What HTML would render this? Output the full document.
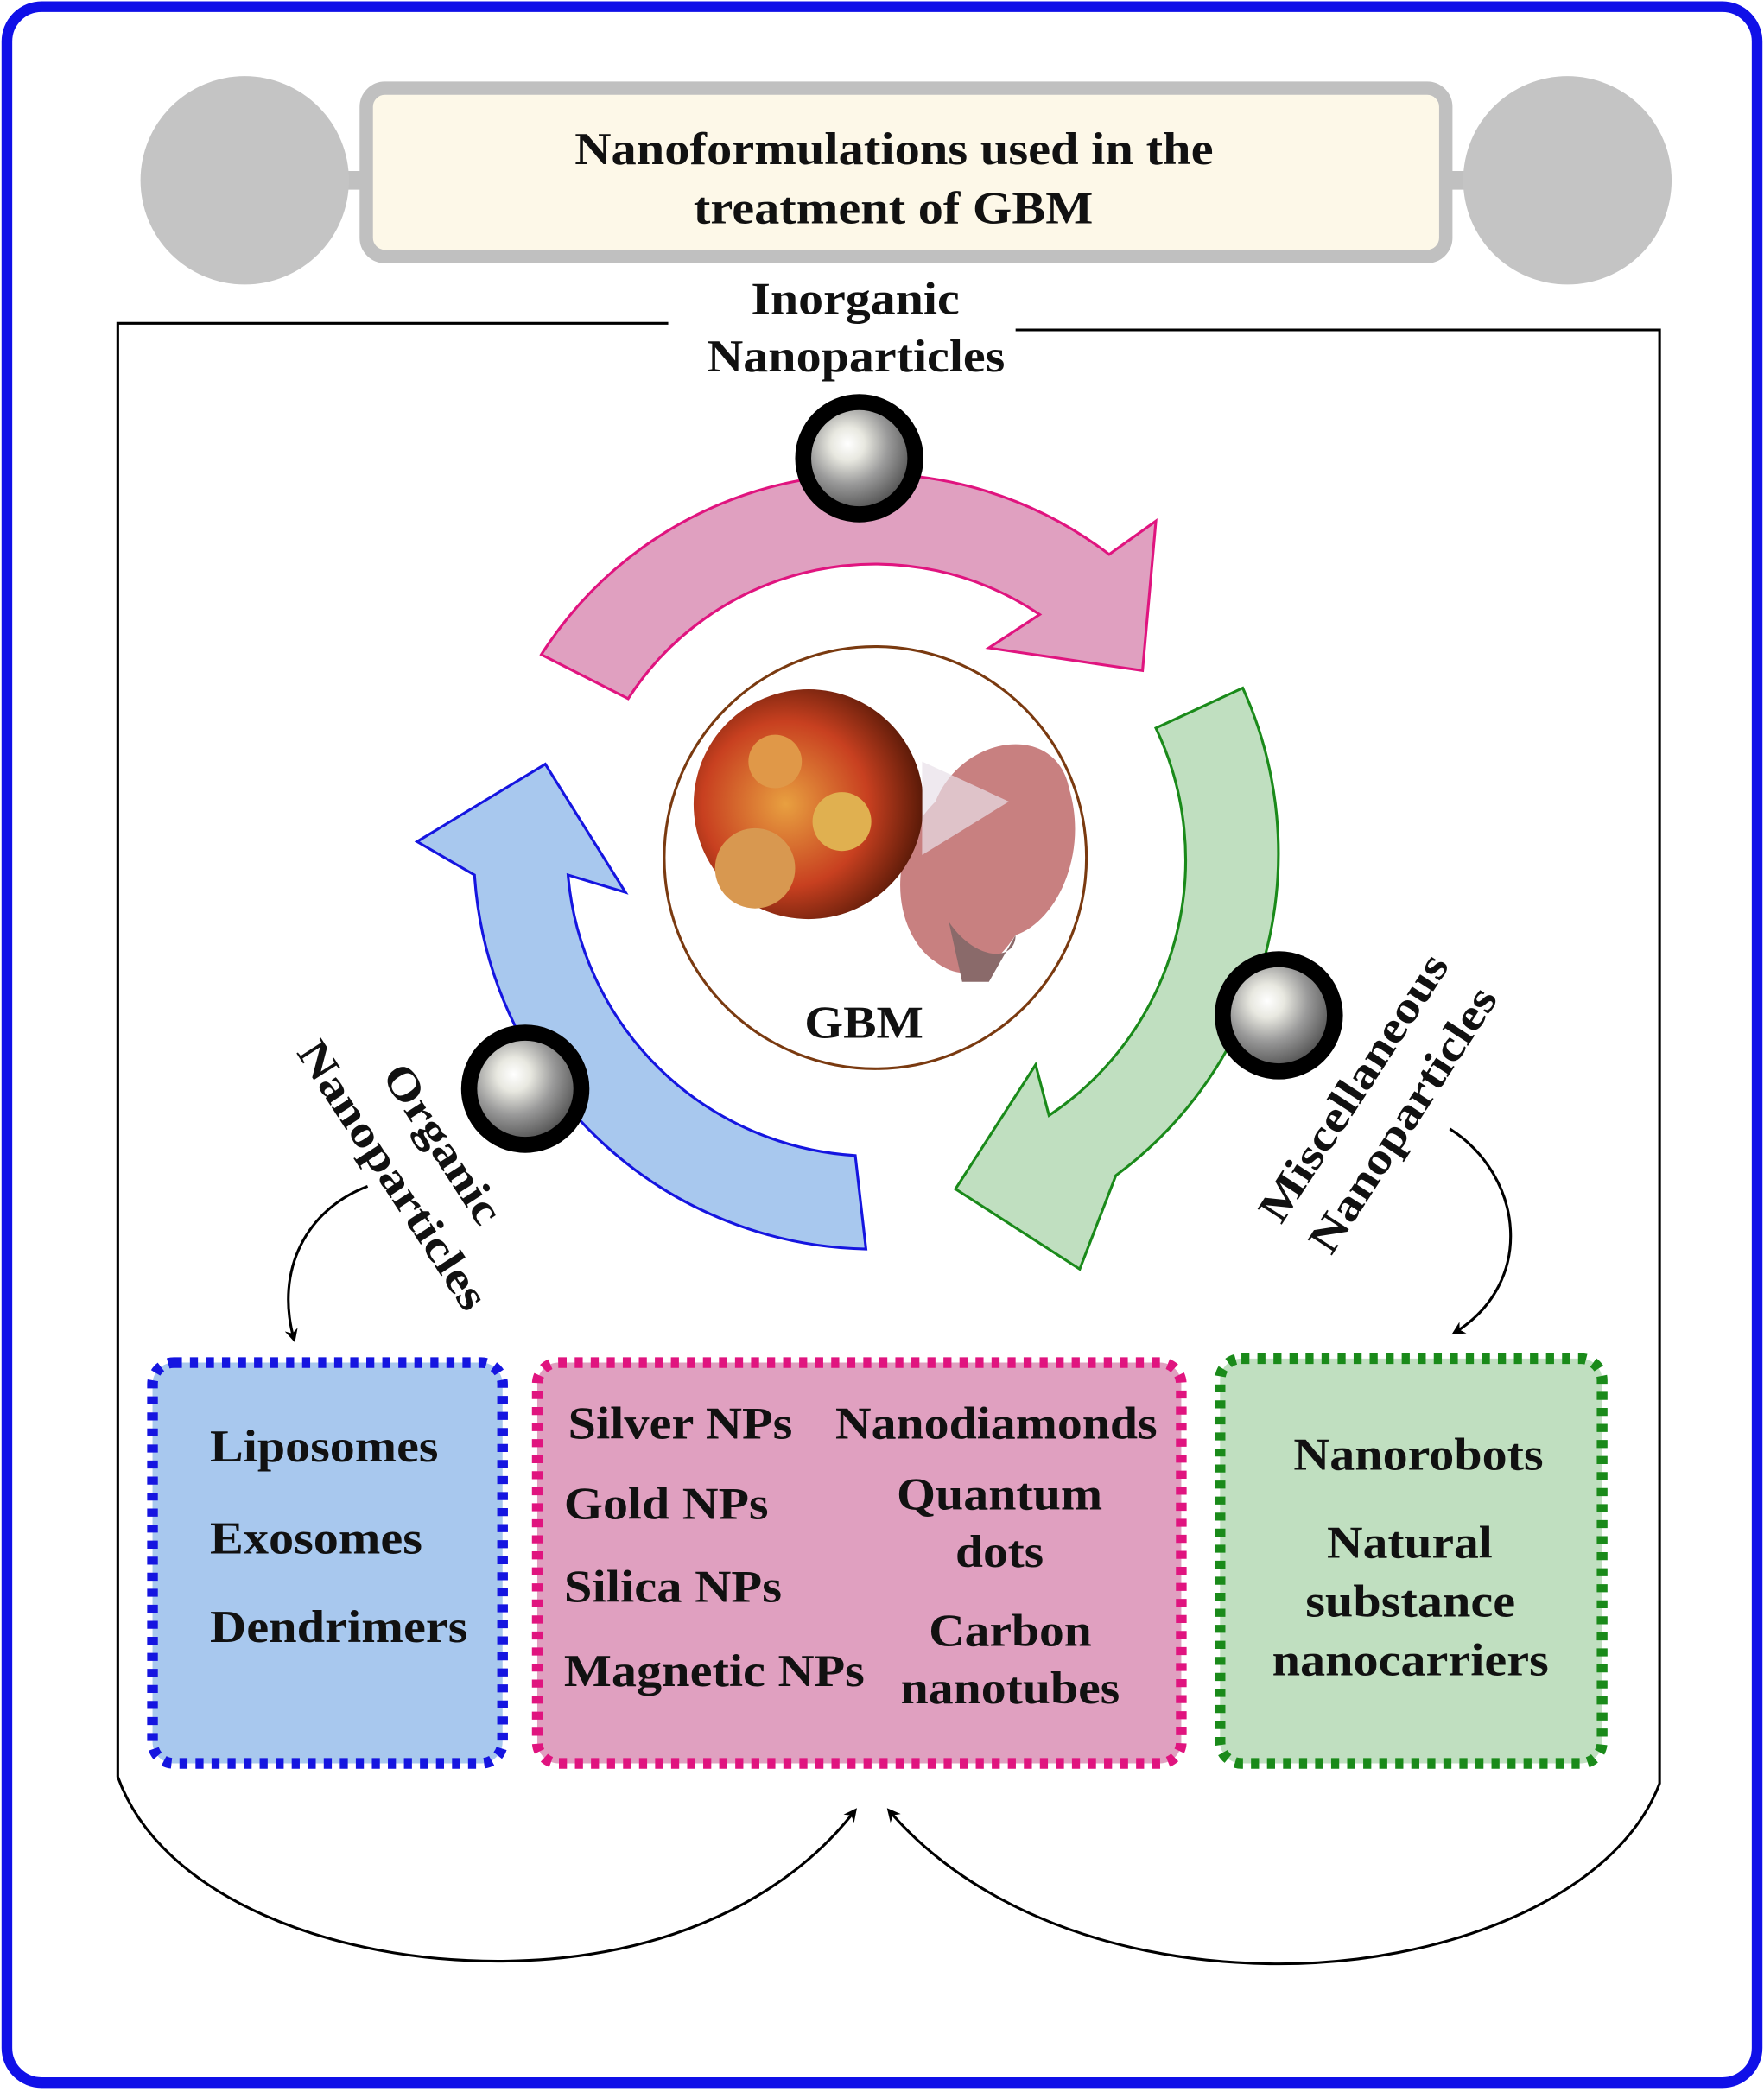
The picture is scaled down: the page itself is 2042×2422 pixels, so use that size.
<!DOCTYPE html>
<html><head><meta charset="utf-8"><style>
html,body{margin:0;padding:0;background:#fff}
svg{display:block}
text{font-family:"Liberation Serif",serif;font-weight:bold;fill:#111}
</style></head><body>
<svg width="2042" height="2422" viewBox="0 0 1320 1566" xmlns="http://www.w3.org/2000/svg">
<defs>
<radialGradient id="ball" cx="0.38" cy="0.35" r="0.7">
<stop offset="0" stop-color="#ffffff"/><stop offset="0.25" stop-color="#e8e8e0"/><stop offset="0.6" stop-color="#9a9a9a"/><stop offset="1" stop-color="#555"/>
</radialGradient>
<radialGradient id="cell" cx="0.4" cy="0.5" r="0.6">
<stop offset="0" stop-color="#e8a040"/><stop offset="0.6" stop-color="#c84020"/><stop offset="1" stop-color="#5a1a08"/>
</radialGradient>
<marker id="ah" markerWidth="10" markerHeight="10" refX="8" refY="5" orient="auto" markerUnits="userSpaceOnUse">
<path d="M0,0 L10,5 L0,10 L3,5 Z" fill="#000"/></marker>
</defs>
<rect x="5" y="5" width="1310" height="1554" rx="26" fill="#fff" stroke="#1010e8" stroke-width="8"/>
<line x1="183" y1="135" x2="1173" y2="135" stroke="#c0c0c0" stroke-width="14"/>
<circle cx="183" cy="135" r="78" fill="#c4c4c4"/>
<circle cx="1173" cy="135" r="78" fill="#c4c4c4"/>
<rect x="274" y="66" width="808" height="126" rx="14" fill="#fdf8e8" stroke="#c0c0c0" stroke-width="10"/>
<g font-size="34" lengthAdjust="spacingAndGlyphs">
<text x="430" y="123" textLength="478" lengthAdjust="spacingAndGlyphs">Nanoformulations used in the</text>
<text x="519" y="167" textLength="299" lengthAdjust="spacingAndGlyphs">treatment of GBM</text>
</g>
<path d="M500,242 L88,242 L88,1330 C120,1420 250,1470 380,1468 C500,1466 590,1420 640,1355" fill="none" stroke="#000" stroke-width="2" marker-end="url(#ah)"/>
<path d="M760,247 L1242,247 L1242,1335 C1210,1420 1080,1472 950,1470 C820,1468 720,1420 665,1355" fill="none" stroke="#000" stroke-width="2" marker-end="url(#ah)"/>
<text x="562" y="235" font-size="34" textLength="156" lengthAdjust="spacingAndGlyphs">Inorganic</text>
<text x="529" y="278" font-size="34" textLength="223" lengthAdjust="spacingAndGlyphs">Nanoparticles</text>
<path d="M405,490 A293,293 0 0,1 830,415 L865,390 L855,502 L740,485 L778,460 A220,220 0 0,0 470,523 Z" fill="#e0a0c0" stroke="#e0147f" stroke-width="2"/>
<path d="M865,545 L930,515 A300,300 0 0,1 835,880 L808,950 L715,890 L775,797 L785,835 A230,230 0 0,0 865,545 Z" fill="#c0dfc0" stroke="#1a8a1a" stroke-width="2"/>
<path d="M648,935 A300,300 0 0,1 355,655 L312,630 L408,572 L468,668 L425,655 A230,230 0 0,0 640,865 Z" fill="#a8c8ee" stroke="#1515e0" stroke-width="2"/>
<circle cx="655" cy="642" r="158" fill="#fff" stroke="#7a3a10" stroke-width="2"/>
<path d="M700,600 C720,550 790,540 800,590 C815,640 790,690 760,700 C740,730 720,735 700,720 C670,700 660,640 700,600 Z" fill="#c88080"/>
<path d="M710,690 C730,720 760,720 760,700 L740,735 L720,735 Z" fill="#8a6a6a"/>
<circle cx="605" cy="602" r="86" fill="url(#cell)"/>
<circle cx="565" cy="650" r="30" fill="#d89850"/>
<circle cx="630" cy="615" r="22" fill="#e0b050"/>
<circle cx="580" cy="570" r="20" fill="#e09848"/>
<path d="M690,570 L755,600 L690,640 Z" fill="#e8e0e8" opacity="0.7"/>
<text x="602" y="777" font-size="34" textLength="89" lengthAdjust="spacingAndGlyphs">GBM</text>
<circle cx="643" cy="343" r="48" fill="#000"/><circle cx="643" cy="343" r="36" fill="url(#ball)"/>
<circle cx="957" cy="760" r="48" fill="#000"/><circle cx="957" cy="760" r="36" fill="url(#ball)"/>
<circle cx="393" cy="815" r="48" fill="#000"/><circle cx="393" cy="815" r="36" fill="url(#ball)"/>
<g transform="translate(322,862) rotate(57)"><text x="-68" y="0" font-size="33" textLength="136" lengthAdjust="spacingAndGlyphs">Organic</text><text x="-117" y="44" font-size="33" textLength="233" lengthAdjust="spacingAndGlyphs">Nanoparticles</text></g>
<g transform="translate(1022,820) rotate(-57)"><text x="-116" y="0" font-size="33" textLength="232" lengthAdjust="spacingAndGlyphs">Miscellaneous</text><text x="-115" y="44" font-size="33" textLength="230" lengthAdjust="spacingAndGlyphs">Nanoparticles</text></g>
<path d="M275,888 C230,905 205,950 220,1003" fill="none" stroke="#000" stroke-width="2" marker-end="url(#ah)"/>
<path d="M1085,845 C1140,880 1150,960 1088,998" fill="none" stroke="#000" stroke-width="2" marker-end="url(#ah)"/>
<rect x="114" y="1020" width="262" height="300" rx="16" fill="#a8c8ee" stroke="#1515e0" stroke-width="8" stroke-dasharray="6,6"/>
<rect x="402" y="1020" width="482" height="300" rx="16" fill="#e0a0c0" stroke="#e0147f" stroke-width="8" stroke-dasharray="6,6"/>
<rect x="913" y="1017" width="286" height="303" rx="16" fill="#c0dfc0" stroke="#1a8a1a" stroke-width="8" stroke-dasharray="6,6"/>
<g font-size="34">
<text x="157" y="1094" textLength="171" lengthAdjust="spacingAndGlyphs">Liposomes</text>
<text x="157" y="1163" textLength="159" lengthAdjust="spacingAndGlyphs">Exosomes</text>
<text x="157" y="1229" textLength="193" lengthAdjust="spacingAndGlyphs">Dendrimers</text>
<text x="425" y="1077" textLength="168" lengthAdjust="spacingAndGlyphs">Silver NPs</text>
<text x="422" y="1137" textLength="153" lengthAdjust="spacingAndGlyphs">Gold NPs</text>
<text x="422" y="1199" textLength="163" lengthAdjust="spacingAndGlyphs">Silica NPs</text>
<text x="422" y="1262" textLength="225" lengthAdjust="spacingAndGlyphs">Magnetic NPs</text>
<text x="625" y="1077" textLength="241" lengthAdjust="spacingAndGlyphs">Nanodiamonds</text>
<text x="671" y="1130" textLength="154" lengthAdjust="spacingAndGlyphs">Quantum</text>
<text x="715" y="1173" textLength="66" lengthAdjust="spacingAndGlyphs">dots</text>
<text x="695" y="1232" textLength="122" lengthAdjust="spacingAndGlyphs">Carbon</text>
<text x="674" y="1275" textLength="164" lengthAdjust="spacingAndGlyphs">nanotubes</text>
<text x="968" y="1100" textLength="187" lengthAdjust="spacingAndGlyphs">Nanorobots</text>
<text x="993" y="1166" textLength="124" lengthAdjust="spacingAndGlyphs">Natural</text>
<text x="977" y="1210" textLength="157" lengthAdjust="spacingAndGlyphs">substance</text>
<text x="952" y="1254" textLength="207" lengthAdjust="spacingAndGlyphs">nanocarriers</text>
</g>
</svg>
</body></html>
